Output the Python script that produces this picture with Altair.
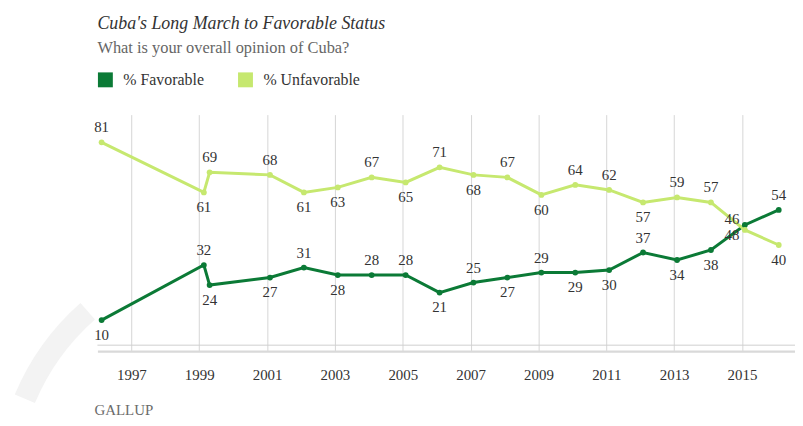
import altair as alt
import pandas as pd

# ---- data ----
dates = ["1996-02-15", "1999-02-20", "1999-04-23", "2001-02-01", "2002-02-01",
         "2003-02-01", "2004-02-01", "2005-02-01", "2006-02-01", "2007-02-01",
         "2008-02-01", "2009-02-01", "2010-02-01", "2011-02-01", "2012-02-01",
         "2013-02-01", "2014-02-01", "2015-02-01", "2016-02-01"]
favorable = [10, 32, 24, 27, 31, 28, 28, 28, 21, 25, 27, 29, 29, 30, 37, 34, 38, 48, 54]
unfavorable = [81, 61, 69, 68, 61, 63, 67, 65, 71, 68, 67, 60, 64, 62, 57, 59, 57, 46, 40]
fav_label_side = ["below", "above", "below", "below", "above", "below", "above", "above",
                  "below", "above", "below", "above", "below", "below", "above", "below",
                  "below", "belowleft", "above"]
unfav_label_side = ["above", "below", "above", "above", "below", "below", "above", "below",
                    "above", "below", "above", "below", "above", "above", "below", "above",
                    "above", "aboveleft", "below"]
series_names = ["% Favorable", "% Unfavorable"]
series_colors = ["#0b7a36", "#c6e86f"]
tick_years = list(range(1997, 2016, 2))

rows = []
for d, v, s in zip(dates, favorable, fav_label_side):
    rows.append({"date": d, "value": v, "series": series_names[0], "side": s})
for d, v, s in zip(dates, unfavorable, unfav_label_side):
    rows.append({"date": d, "value": v, "series": series_names[1], "side": s})
df = pd.DataFrame(rows)

FONT = "Liberation Serif"

xscale = alt.Scale(domain=[alt.DateTime(year=1996, month=1, date=1),
                           alt.DateTime(year=2016, month=7, date=25)])
yscale = alt.Scale(domain=[-2.38, 92.06], nice=False, zero=False)
cscale = alt.Scale(domain=series_names, range=series_colors)

legend = alt.Legend(title=None, orient="none", legendX=0, legendY=-43,
                    direction="horizontal", symbolType="square",
                    symbolSize=225, symbolStrokeWidth=0, symbolOpacity=1,
                    labelFont=FONT, labelFontSize=16, labelColor="#333333",
                    labelOffset=10, columnPadding=33, padding=0)
color = alt.Color("series:N", scale=cscale, legend=legend)

x = alt.X("date:T", scale=xscale, title=None,
          axis=alt.Axis(values=[alt.DateTime(year=y) for y in tick_years], format="%Y",
                        grid=True, gridColor="#d6d6d6", gridWidth=1,
                        ticks=False, labelPadding=17, labelFontSize=15,
                        labelColor="#333333", labelFont=FONT,
                        domainColor="#d9d9d9", domainWidth=2.5))
y = alt.Y("value:Q", scale=yscale, axis=None)

base = alt.Chart(df)

arc = alt.Chart(pd.DataFrame({"a": [0]})).mark_arc(
    radius=254, radius2=232, theta=5.11, theta2=5.56, color="#f3f3f3"
).encode(x=alt.value(151), y=alt.value(380))

zero_rule = alt.Chart(pd.DataFrame({"v": [0]})).mark_rule(color="#d0d0d0", strokeWidth=1).encode(
    y=alt.Y("v:Q", scale=yscale, axis=None))

lines = base.mark_line(strokeWidth=3).encode(
    x=x, y=y, color=color,
    order=alt.Order("series:N", sort="descending"))

points = base.mark_point(filled=True, size=34, opacity=1).encode(
    x=x, y=y, color=color)

offsets = {"above": (0, -15), "below": (0, 15), "aboveleft": (-13, -11), "belowleft": (-13, 10)}
label_layers = []
for side, (dx, dy) in offsets.items():
    label_layers.append(
        base.transform_filter(alt.datum.side == side).mark_text(
            dx=dx, dy=dy, font=FONT, fontSize=15, color="#333333", baseline="middle"
        ).encode(x=x, y=y, text=alt.Text("value:Q"))
    )

gallup = alt.Chart(pd.DataFrame({"t": ["GALLUP"]})).mark_text(
    align="left", baseline="alphabetic", font=FONT, fontSize=15, color="#6b6b6b"
).encode(x=alt.value(-3), y=alt.value(302), text="t:N")

chart = alt.layer(arc, zero_rule, lines, points, *label_layers, gallup).properties(
    width=702, height=238,
    autosize=alt.AutoSizeParams(type="none"),
    padding={"left": 90, "top": 106, "right": 0, "bottom": 66},
    title=alt.TitleParams(
        text="Cuba's Long March to Favorable Status",
        subtitle="What is your overall opinion of Cuba?",
        anchor="start", frame="group", font=FONT, fontStyle="italic", fontWeight="normal",
        fontSize=18, color="#333333", subtitleFont=FONT, subtitleFontSize=16.5,
        subtitleColor="#666666", subtitlePadding=7, offset=16),
).configure(font=FONT).configure_view(strokeWidth=0)

chart.save("out.html", embed_options={"renderer": "svg", "actions": False})
